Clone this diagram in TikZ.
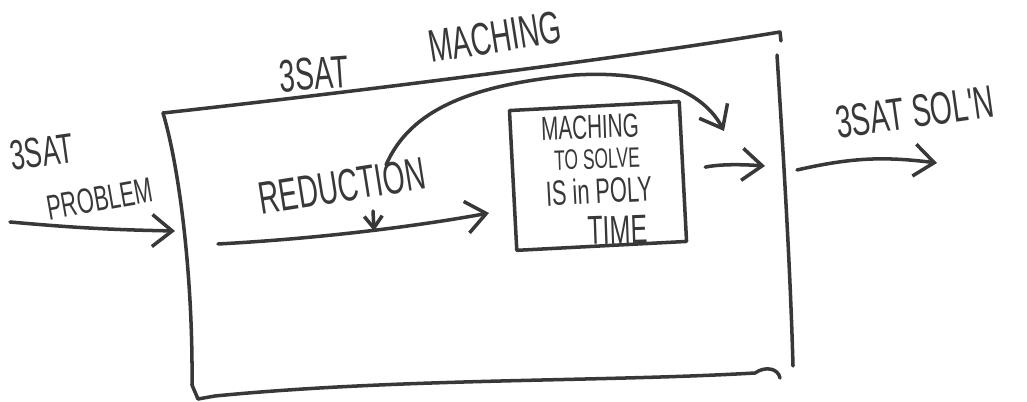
\documentclass[tikz,border=0pt]{standalone}
\usepackage{fontspec}
\newfontfamily\handfont[FakeStretch=0.62]{Liberation Sans}
\usetikzlibrary{arrows.meta}

\begin{document}
\begin{tikzpicture}[
    x=0.1mm, y=-0.1mm,
    pen/.style={line width=1pt, draw=black!78, line cap=round, line join=round},
    arrow/.style={pen, -{Straight Barb[length=2mm, width=3.2mm, line width=1pt]}},
    small arrow/.style={pen, -{Straight Barb[length=1.2mm, width=1.8mm, line width=1pt]}},
    hand/.style={text=black!78, inner sep=0pt, font=\handfont\fontsize{#1}{#1}\selectfont},
    hand/.default=12
]
\useasboundingbox (0,0) rectangle (1027,402);

% Outer 3SAT machine
\coordinate (tl) at (163,113);
\coordinate (tr) at (780,32);
\coordinate (rt) at (777,55);
\coordinate (rb) at (793,366);
\coordinate (bl) at (198,399);
\coordinate (br) at (780,378);
\draw[pen] (tl) .. controls (300,98) and (600,62) .. (tr) -- ++(1,9);
\draw[pen] (tl) .. controls (180,170) and (193,280) .. (192,385) -- (bl);
\draw[pen] (rt) .. controls (783,150) and (790,260) .. (rb);
\draw[pen] (bl) -- (215,396) .. controls (400,378) and (600,382) .. (755,373)
    .. controls (765,366) and (778,368) .. (br);
\node[hand=13, rotate=4] (title3sat) at (314,74) {3SAT};
\node[hand=13, rotate=9] (titlemach) at (495,37) {MACHING};

% Input
\node[hand=12, rotate=8] (insat) at (42,152) {3SAT};
\node[hand=10, rotate=10] (inprob) at (100,199) {PROBLEM};
\coordinate (inl) at (10,222);
\coordinate (inr) at (175,231);
\draw[arrow] (inl) to[bend right=2] (inr);

% Reduction
\node[hand=13, rotate=9] (reduction) at (342,186) {REDUCTION};
\coordinate (redin) at (218,244);
\coordinate (redtip) at (489,213);
\coordinate (redmark) at (374,231);
\draw[arrow] (redin) .. controls (330,238) and (430,224) .. (redtip);
\draw[small arrow] (373,211) -- (redmark);

% Matching solver
\node[pen, draw, rotate=3, minimum width=17mm, minimum height=14mm] (machine) at (598,176) {};
\node[hand=9.5, rotate=2] (mline1) at (590,127) {MACHING};
\node[hand=8, rotate=2] (mline2) at (597,159) {TO SOLVE};
\node[hand=10, rotate=3] (mline3) at (599,191) {IS in POLY};
\node[hand=11.5, rotate=2] (mline4) at (618,230) {TIME};

% Arrows out
\coordinate (loopin) at (386,165);
\coordinate (looptip) at (724,131);
\draw[arrow] (loopin) .. controls (410,110) and (470,85) .. (575,75)
    .. controls (660,70) and (705,95) .. (looptip);
\coordinate (mtip) at (765,166);
\draw[arrow, shorten <=6pt] (machine.east) to[bend left=8] (mtip);

% Output
\node[hand=13, rotate=8] (outsat) at (915,112) {3SAT SOL'N};
\coordinate (outl) at (797,170);
\coordinate (outr) at (937,163);
\draw[arrow] (outl) to[bend left=10] (outr);

\end{tikzpicture}
\end{document}
